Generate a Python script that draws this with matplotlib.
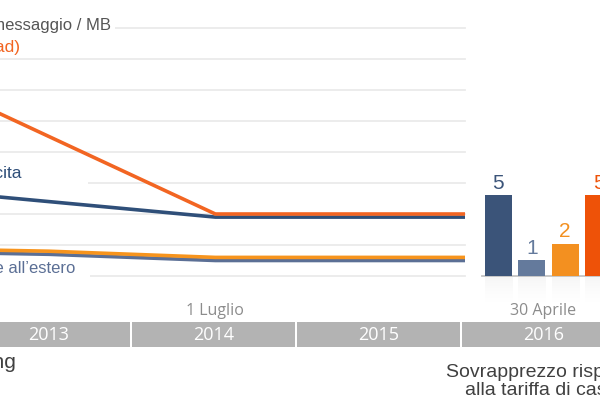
import matplotlib.pyplot as plt
from matplotlib.patches import Rectangle
import numpy as np

plt.rcParams['font.family'] = ['Liberation Sans', 'DejaVu Sans']

# Roaming caps (euro cents) at each 1 July step, flat until 2016
dates = [2012.5, 2013.5, 2014.5, 2016.0]
dati = [70, 45, 20, 20]
chiamate_uscita = [29, 24, 19, 19]
sms = [9, 8, 6, 6]
chiamate_ricevute = [8, 7, 5, 5]

# Surcharge over home tariff from 30 April 2016
bar_values = [5, 1, 2, 5]
bar_colors = ['#3b5479', '#647a9c', '#f39020', '#ee5208']

years = [2013, 2014, 2015, 2016]

W, H = 600, 400


def px(x, y):
    # pixel (top-left origin) -> figure fraction
    return x / W, 1 - y / H


fig = plt.figure(figsize=(6, 4), dpi=100)

# Line chart
ax = fig.add_axes([0, 0.31, 465 / W, 248 / H])
ax.plot(dates, chiamate_uscita, color='#2f4f79', lw=2.6, zorder=4, solid_capstyle='butt')
ax.plot(dates, dati, color='#f26522', lw=2.6, zorder=5, solid_capstyle='butt')
ax.plot(dates, chiamate_ricevute, color='#5b6f95', lw=2.6, zorder=4, solid_capstyle='butt')
ax.plot(dates, sms, color='#f7941d', lw=2.6, zorder=5, solid_capstyle='butt')
ax.set_xlim(2013 + 34 / 165, 2016.0)
ax.set_ylim(0, 80)
ax.set_yticks(np.arange(0, 81, 10))
ax.set_xticks([])
ax.grid(axis='y', color='#ebebeb', lw=1.3)
for gl in ax.get_ygridlines():
    gl.set_clip_on(False)
ax.set_axisbelow(True)
ax.tick_params(left=False, labelleft=False)
for s in ax.spines.values():
    s.set_visible(False)

# label backgrounds that break the gridlines
for (x0, y0, x1, y1) in [(0, 10, 115, 34), (0, 160, 88, 186), (0, 258, 90, 279)]:
    fx0, fy1 = px(x0, y0)
    fx1, fy0 = px(x1, y1)
    fig.patches.append(Rectangle((fx0, fy0), fx1 - fx0, fy1 - fy0, transform=fig.transFigure,
                                 facecolor='white', edgecolor='none', zorder=1))

fig.text(*px(111, 30), 'Tariffa massima per minuto / messaggio / MB', ha='right', va='baseline',
         fontsize=12, color='#555555')
fig.text(*px(20, 52), 'Dati (download)', ha='right', va='baseline', fontsize=12.5, color='#f26522')
fig.text(*px(22, 178), 'Chiamate in uscita', ha='right', va='baseline', fontsize=12.5, color='#2f4f79')
fig.text(*px(75, 273), 'Chiamate ricevute all\u2019estero', ha='right', va='baseline', fontsize=12,
         color='#5b6f95')

# Bars
axb = fig.add_axes([465 / W, 0.31, 135 / W, 248 / H])
pos = np.arange(len(bar_values))
axb.bar(pos, bar_values, width=0.81, color=bar_colors, zorder=3)
for p, v, c in zip(pos, bar_values, bar_colors):
    axb.annotate(str(v), (p, v), xytext=(0, 4.5), textcoords='offset points', ha='center',
                 va='baseline', fontsize=15, color=c)
    grad = np.linspace(0, 1, 50).reshape(-1, 1)
    axb.imshow(grad, extent=(p - 0.405, p + 0.405, -1.6, 0), cmap='Greys_r', vmin=-2.2, vmax=1,
               aspect='auto', alpha=0.18, clip_on=False, zorder=1)
axb.axhline(0, xmin=17 / 135, color='#c4c4c4', lw=1.3, clip_on=False, zorder=2)
axb.set_xlim(-1.0, 3.04)
axb.set_ylim(0, 248 / 16.2)
axb.axis('off')

# Timeline
axt = fig.add_axes([0, 53 / H, 1, 25 / H])
axt.bar(years, [1] * len(years), width=1 - 0.016, align='edge', color='#b3b3b3')
for i, y in enumerate(years):
    axt.patches[i].set_x(y + 0.008)
    axt.text(y + 0.5, 0.47, str(y), ha='center', va='center', fontsize=13, color='white',
             family='Open Sans')
axt.set_xlim(2013 + 34 / 165, 2013 + 34 / 165 + W / 165)
axt.set_ylim(0, 1)
axt.axis('off')

fig.text(*px(215, 315), '1 Luglio', ha='center', va='baseline', fontsize=11.5, color='#8c8c8c',
         family='Open Sans')
fig.text(*px(543, 315), '30 Aprile', ha='center', va='baseline', fontsize=11.5, color='#8c8c8c',
         family='Open Sans')

fig.text(*px(16, 368), 'Roaming', ha='right', va='baseline', fontsize=15, color='#404040')
fig.text(*px(541, 395), 'Sovrapprezzo rispetto\nalla tariffa di casa', ha='center', va='baseline',
         fontsize=14, color='#404040', linespacing=1.05, ma='center')

fig.savefig('out.png', dpi=100)
